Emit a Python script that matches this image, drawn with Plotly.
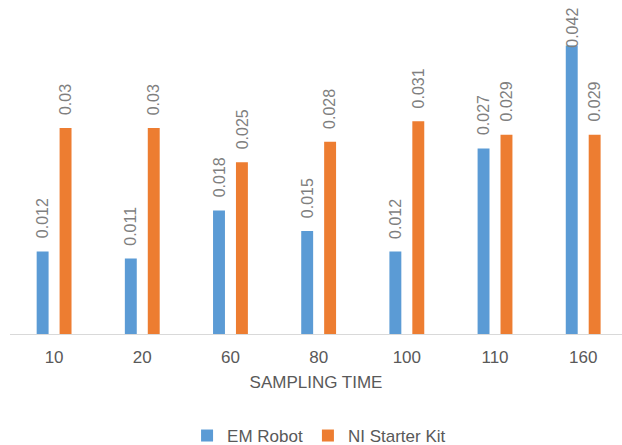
import plotly.graph_objects as go

# Sampling times (x categories) and measured values per device
sampling_time = ["10", "20", "60", "80", "100", "110", "160"]
em_robot = [0.012, 0.011, 0.018, 0.015, 0.012, 0.027, 0.042]
ni_starter_kit = [0.03, 0.03, 0.025, 0.028, 0.031, 0.029, 0.029]

BLUE = "#5B9BD5"
ORANGE = "#ED7D31"
FONT = "Liberation Sans"

W, H = 622, 445
M_L, M_R, M_T, M_B = 10, 0, 25, 111
Y_MAX = 0.045
plot_h = H - M_T - M_B

fig = go.Figure()
fig.add_trace(go.Bar(name="EM Robot", x=sampling_time, y=em_robot,
                     marker=dict(color=BLUE, line=dict(width=0))))
fig.add_trace(go.Bar(name="NI Starter Kit", x=sampling_time, y=ni_starter_kit,
                     marker=dict(color=ORANGE, line=dict(width=0))))

# Rotated value labels above each bar; kept inside the figure at the top
LABEL_SIZE = 16
LABEL_GAP = 11
TOP_ROOM = M_T - 10
annotations = []
for vals, shift in ((em_robot, -11.5), (ni_starter_kit, 11.5)):
    for idx, v in enumerate(vals):
        txt = f"{v:g}"
        length = (len(txt) - 1) * 0.556 * LABEL_SIZE + 0.278 * LABEL_SIZE
        px_above = (Y_MAX - v) / Y_MAX * plot_h + TOP_ROOM
        ys = min(LABEL_GAP, px_above - length)
        annotations.append(dict(
            x=idx, y=v, xref="x", yref="y", text=txt, showarrow=False,
            textangle=-90, xshift=shift, yshift=ys, yanchor="bottom",
            xanchor="center",
            font=dict(family=FONT, size=LABEL_SIZE, color="#7F7F7F")))

fig.update_layout(
    width=W, height=H,
    margin=dict(l=M_L, r=M_R, t=M_T, b=M_B, autoexpand=False),
    paper_bgcolor="white", plot_bgcolor="white",
    barmode="group", bargap=0.48, bargroupgap=0.48,
    font=dict(family=FONT, color="#595959"),
    showlegend=True,
    legend=dict(orientation="h", x=0.505, xanchor="center", y=-0.33,
                yanchor="middle", font=dict(size=17, color="#595959"),
                itemwidth=30, traceorder="normal"),
    annotations=annotations,
)
fig.update_xaxes(
    type="category", range=[-0.5, 6.44], showline=True, linecolor="#D9D9D9",
    linewidth=1, showgrid=False, ticks="", ticklabelstandoff=8,
    tickfont=dict(size=17, color="#595959"),
    title=dict(text="SAMPLING TIME", font=dict(size=17, color="#595959"),
               standoff=9),
    automargin=False,
)
fig.update_yaxes(range=[0, Y_MAX], visible=False, showgrid=False,
                 zeroline=False, automargin=False)

fig.write_html("out.html")
